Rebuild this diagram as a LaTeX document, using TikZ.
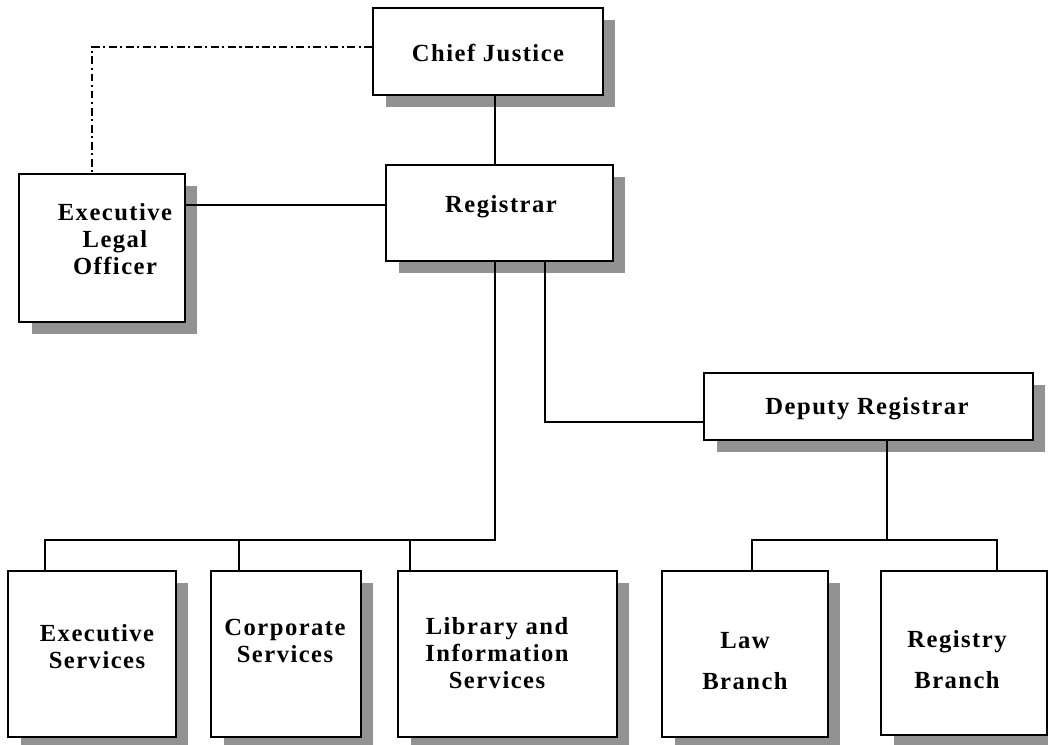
\documentclass[tikz,border=0pt]{standalone}
\usepackage{fontspec}
\setmainfont{Liberation Serif}[LetterSpace=6]
\usetikzlibrary{shadows}
\definecolor{shadowgray}{RGB}{146,146,146}

\begin{document}
\begin{tikzpicture}[x=0.02cm,y=-0.02cm,
    box/.style={draw,line width=0.9pt,fill=white,inner sep=0pt,
      drop shadow={shadow xshift=0.25cm,shadow yshift=-0.24cm,fill=shadowgray,opacity=1}},
    lbl/.style={font=\fontsize{14}{15.3}\selectfont\bfseries,align=center,inner sep=0pt},
    link/.style={line width=0.75pt},
    dotline/.style={line width=1.3pt,dash pattern=on 4.5pt off 2pt on 1.2pt off 2pt}]
  \useasboundingbox[fill=white] (0,0) rectangle (1048,744);

  % boxes
  \node[box,minimum width=4.6cm,minimum height=1.74cm] (cj) at (488,51.5) {};
  \node[box,minimum width=4.54cm,minimum height=1.92cm] (reg) at (499.5,213) {};
  \node[box,minimum width=3.32cm,minimum height=2.96cm] (elo) at (102,248) {};
  \node[box,minimum width=6.58cm,minimum height=1.34cm] (dep) at (868.5,406.5) {};
  \node[box,minimum width=3.36cm,minimum height=3.32cm] (es) at (92,654) {};
  \node[box,minimum width=3.0cm,minimum height=3.32cm] (cs) at (286,654) {};
  \node[box,minimum width=4.38cm,minimum height=3.32cm] (lis) at (507.5,654) {};
  \node[box,minimum width=3.32cm,minimum height=3.32cm] (lb) at (745,654) {};
  \node[box,minimum width=3.32cm,minimum height=3.28cm] (rb) at (964,653) {};

  % labels
  \node[lbl,anchor=base] (cj-t) at (488,61) {Chief Justice};
  \node[lbl,anchor=base] (reg-t) at (501,212) {Registrar};
  \node[lbl] (elo-t) at (115,239) {Executive\\Legal\\Officer};
  \node[lbl,anchor=base] (dep-t) at (867,414) {Deputy Registrar};
  \node[lbl] (es-t) at (97,647) {Executive\\Services};
  \node[lbl] (cs-t) at (285,641) {Corporate\\Services};
  \node[lbl] (lis-t) at (497,653) {Library and\\Information\\Services};
  \node[lbl] (lb-t) at (745,661) {Law\\[8pt]Branch};
  \node[lbl] (rb-t) at (957,660) {Registry\\[8pt]Branch};

  % links
  \draw[dotline] (cj.west |- 0,47) -| (elo.north -| 92,0);
  \draw[link] (cj.south -| 495,0) -- (reg.north -| 495,0);
  \draw[link] (elo.east |- 0,205) -- (reg.west |- 0,205);
  \draw[link] (reg.south -| 495,0) -- (495,540) -- (45,540) -- (es.north -| 45,0);
  \draw[link] (239,540) -- (cs.north -| 239,0);
  \draw[link] (410,540) -- (lis.north -| 410,0);
  \draw[link] (reg.south -| 545,0) |- (dep.west |- 0,422);
  \draw[link] (dep.south -| 887,0) -- (887,540);
  \draw[link] (lb.north -| 752,0) -- (752,540) -- (997,540) -- (rb.north -| 997,0);
\end{tikzpicture}
\end{document}
